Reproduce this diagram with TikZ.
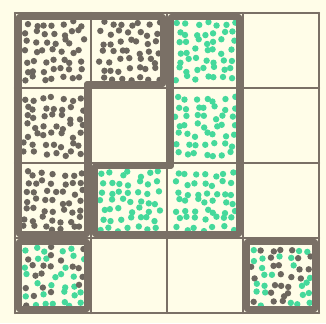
\documentclass[tikz,border=0pt]{standalone}
\usepackage{tikz}
\definecolor{paperCream}{HTML}{FFFDE8}
\definecolor{penGrey}{HTML}{7A7066}
\definecolor{dotGrey}{HTML}{6C665E}
\definecolor{dotGreen}{HTML}{45D99B}
% one cell full of dots: #1 column, #2 row, #3 share of green dots
\newcommand{\dotcell}[3]{%
  \foreach \i in {0,...,6}{
    \foreach \j in {0,...,6}{
      \pgfmathsetmacro{\dx}{#1*76+15+11+\i*9.2+3*rand}
      \pgfmathsetmacro{\dy}{#2*75+13+11+\j*9.1+3*rand}
      \pgfmathsetmacro{\pick}{rnd<#3 ? 1 : 0}
      \ifdim\pick pt>0.5pt
        \fill[greendot] (\dx,\dy) circle (3.2);
      \else
        \fill[greydot] (\dx,\dy) circle (3.2);
      \fi
    }}
}
\begin{document}
\begin{tikzpicture}[x=0.03cm, y=-0.03cm,
  gridline/.style={draw=penGrey, line width=1.9pt, line cap=round},
  regionline/.style={draw=penGrey, line width=4.5pt, line join=round},
  greydot/.style={fill=dotGrey},
  greendot/.style={fill=dotGreen}]
  \pgfmathsetseed{11}
  \fill[paperCream] (0,0) rectangle (326,323);
  \useasboundingbox (0,0) rectangle (326,323);

  % dots
  \dotcell{0}{0}{0}
  \dotcell{1}{0}{0}
  \dotcell{0}{1}{0}
  \dotcell{0}{2}{0}
  \dotcell{2}{0}{1}
  \dotcell{2}{1}{1}
  \dotcell{2}{2}{1}
  \dotcell{1}{2}{1}
  \dotcell{0}{3}{0.5}
  \dotcell{3}{3}{0.5}

  % thin grid
  \foreach \k in {0,...,4}{
    \draw[gridline] (15+\k*76,13) -- (15+\k*76,313);
    \draw[gridline] (15,13+\k*75) -- (319,13+\k*75);
  }

  % grey L region
  \draw[regionline] (19,17) -- (163,17) -- (163,84) -- (87,84) -- (87,234) -- (19,234) -- cycle;
  % green L region
  \draw[regionline] (171,17) -- (239,17) -- (239,234) -- (95,234) -- (95,166) -- (171,166) -- cycle;
  % corner cells
  \draw[regionline] (19,242) rectangle (87,309);
  \draw[regionline] (247,242) rectangle (315,309);
\end{tikzpicture}
\end{document}
